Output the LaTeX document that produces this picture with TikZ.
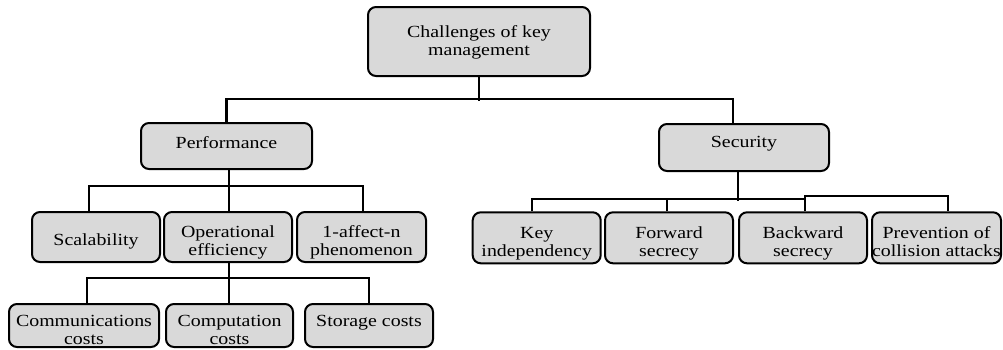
\documentclass[tikz,border=0pt]{standalone}
\usepackage{fontspec}
\setmainfont[FakeStretch=1.17]{Liberation Serif}
\definecolor{boxgray}{RGB}{217,217,217}
\newcommand\mlines[1]{\begin{tabular}[t]{@{}c@{}}#1\end{tabular}}
\begin{document}
\begin{tikzpicture}[x=1pt,y=-1pt,
  box/.style={draw, line width=2pt, rounded corners=8pt, fill=boxgray, inner sep=0pt,
    font=\fontsize{17}{18.3}\selectfont},
  conn/.style={line width=2.4pt}]
\useasboundingbox (0,0) rectangle (1003,349);
% level 0
\node[box, minimum width=222, text height=30pt, text depth=39pt] (root) at (479,41.5) {\mlines{Challenges of key\\management}};
% level 1
\node[box, minimum width=171, text height=25pt, text depth=21pt] (perf) at (226.5,146) {Performance};
\node[box, minimum width=170, text height=23pt, text depth=24pt] (sec) at (744,147.5) {Security};
% level 2 left
\node[box, minimum width=128, text height=33pt, text depth=17pt] (scal) at (96,237) {Scalability};
\node[box, minimum width=128, text height=25pt, text depth=25pt] (oper) at (228,237) {\mlines{Operational\\efficiency}};
\node[box, minimum width=129, text height=25pt, text depth=25pt] (aff) at (361.5,237) {\mlines{1-affect-n\\phenomenon}};
% level 3
\node[box, minimum width=150, text height=22.5pt, text depth=20.5pt] (comm) at (84,325.5) {\mlines{Communications\\costs}};
\node[box, minimum width=127, text height=22.5pt, text depth=20.5pt] (comp) at (229.5,325.5) {\mlines{Computation\\costs}};
\node[box, minimum width=128, text height=22.5pt, text depth=20.5pt] (stor) at (369,325.5) {Storage costs};
% level 2 right
\node[box, minimum width=128, text height=26pt, text depth=25pt] (key) at (536.7,237.8) {\mlines{Key\\independency}};
\node[box, minimum width=128, text height=26pt, text depth=25pt] (fwd) at (669,237.8) {\mlines{Forward\\secrecy}};
\node[box, minimum width=128, text height=26pt, text depth=25pt] (bwd) at (803,237.8) {\mlines{Backward\\secrecy}};
\node[box, minimum width=129, text height=26pt, text depth=25pt] (prev) at (936.5,237.8) {\mlines{Prevention of\\collision attacks}};
% connectors
\draw[conn] (root.south) -- ++(0,24);
\draw[conn] (perf.north) -- ++(0,-23) -| ([xshift=-11pt]sec.north);
\draw[conn] ([xshift=2.5pt]perf.south) -- ([xshift=2.5pt]perf.south |- oper.north);
\draw[conn] ([xshift=-7pt]scal.north) -- ++(0,-25) -| ([xshift=1.5pt]aff.north);
\draw[conn] ([xshift=1pt]oper.south) -- ([xshift=1pt]oper.south |- comp.north);
\draw[conn] ([xshift=3pt]comm.north) -- ++(0,-25) -| (stor.north);
\draw[conn] ([xshift=-6pt]sec.south) -- ++(0,29);
\draw[conn] ([xshift=-4.7pt]key.north) -- ++(0,-12.3) -| ([xshift=2pt]bwd.north);
\draw[conn] ([xshift=-2pt]fwd.north) -- ++(0,-12.3);
\draw[conn] ([xshift=2pt]bwd.north) -- ++(0,-15.3) -| ([xshift=11.5pt]prev.north);
\end{tikzpicture}
\end{document}
